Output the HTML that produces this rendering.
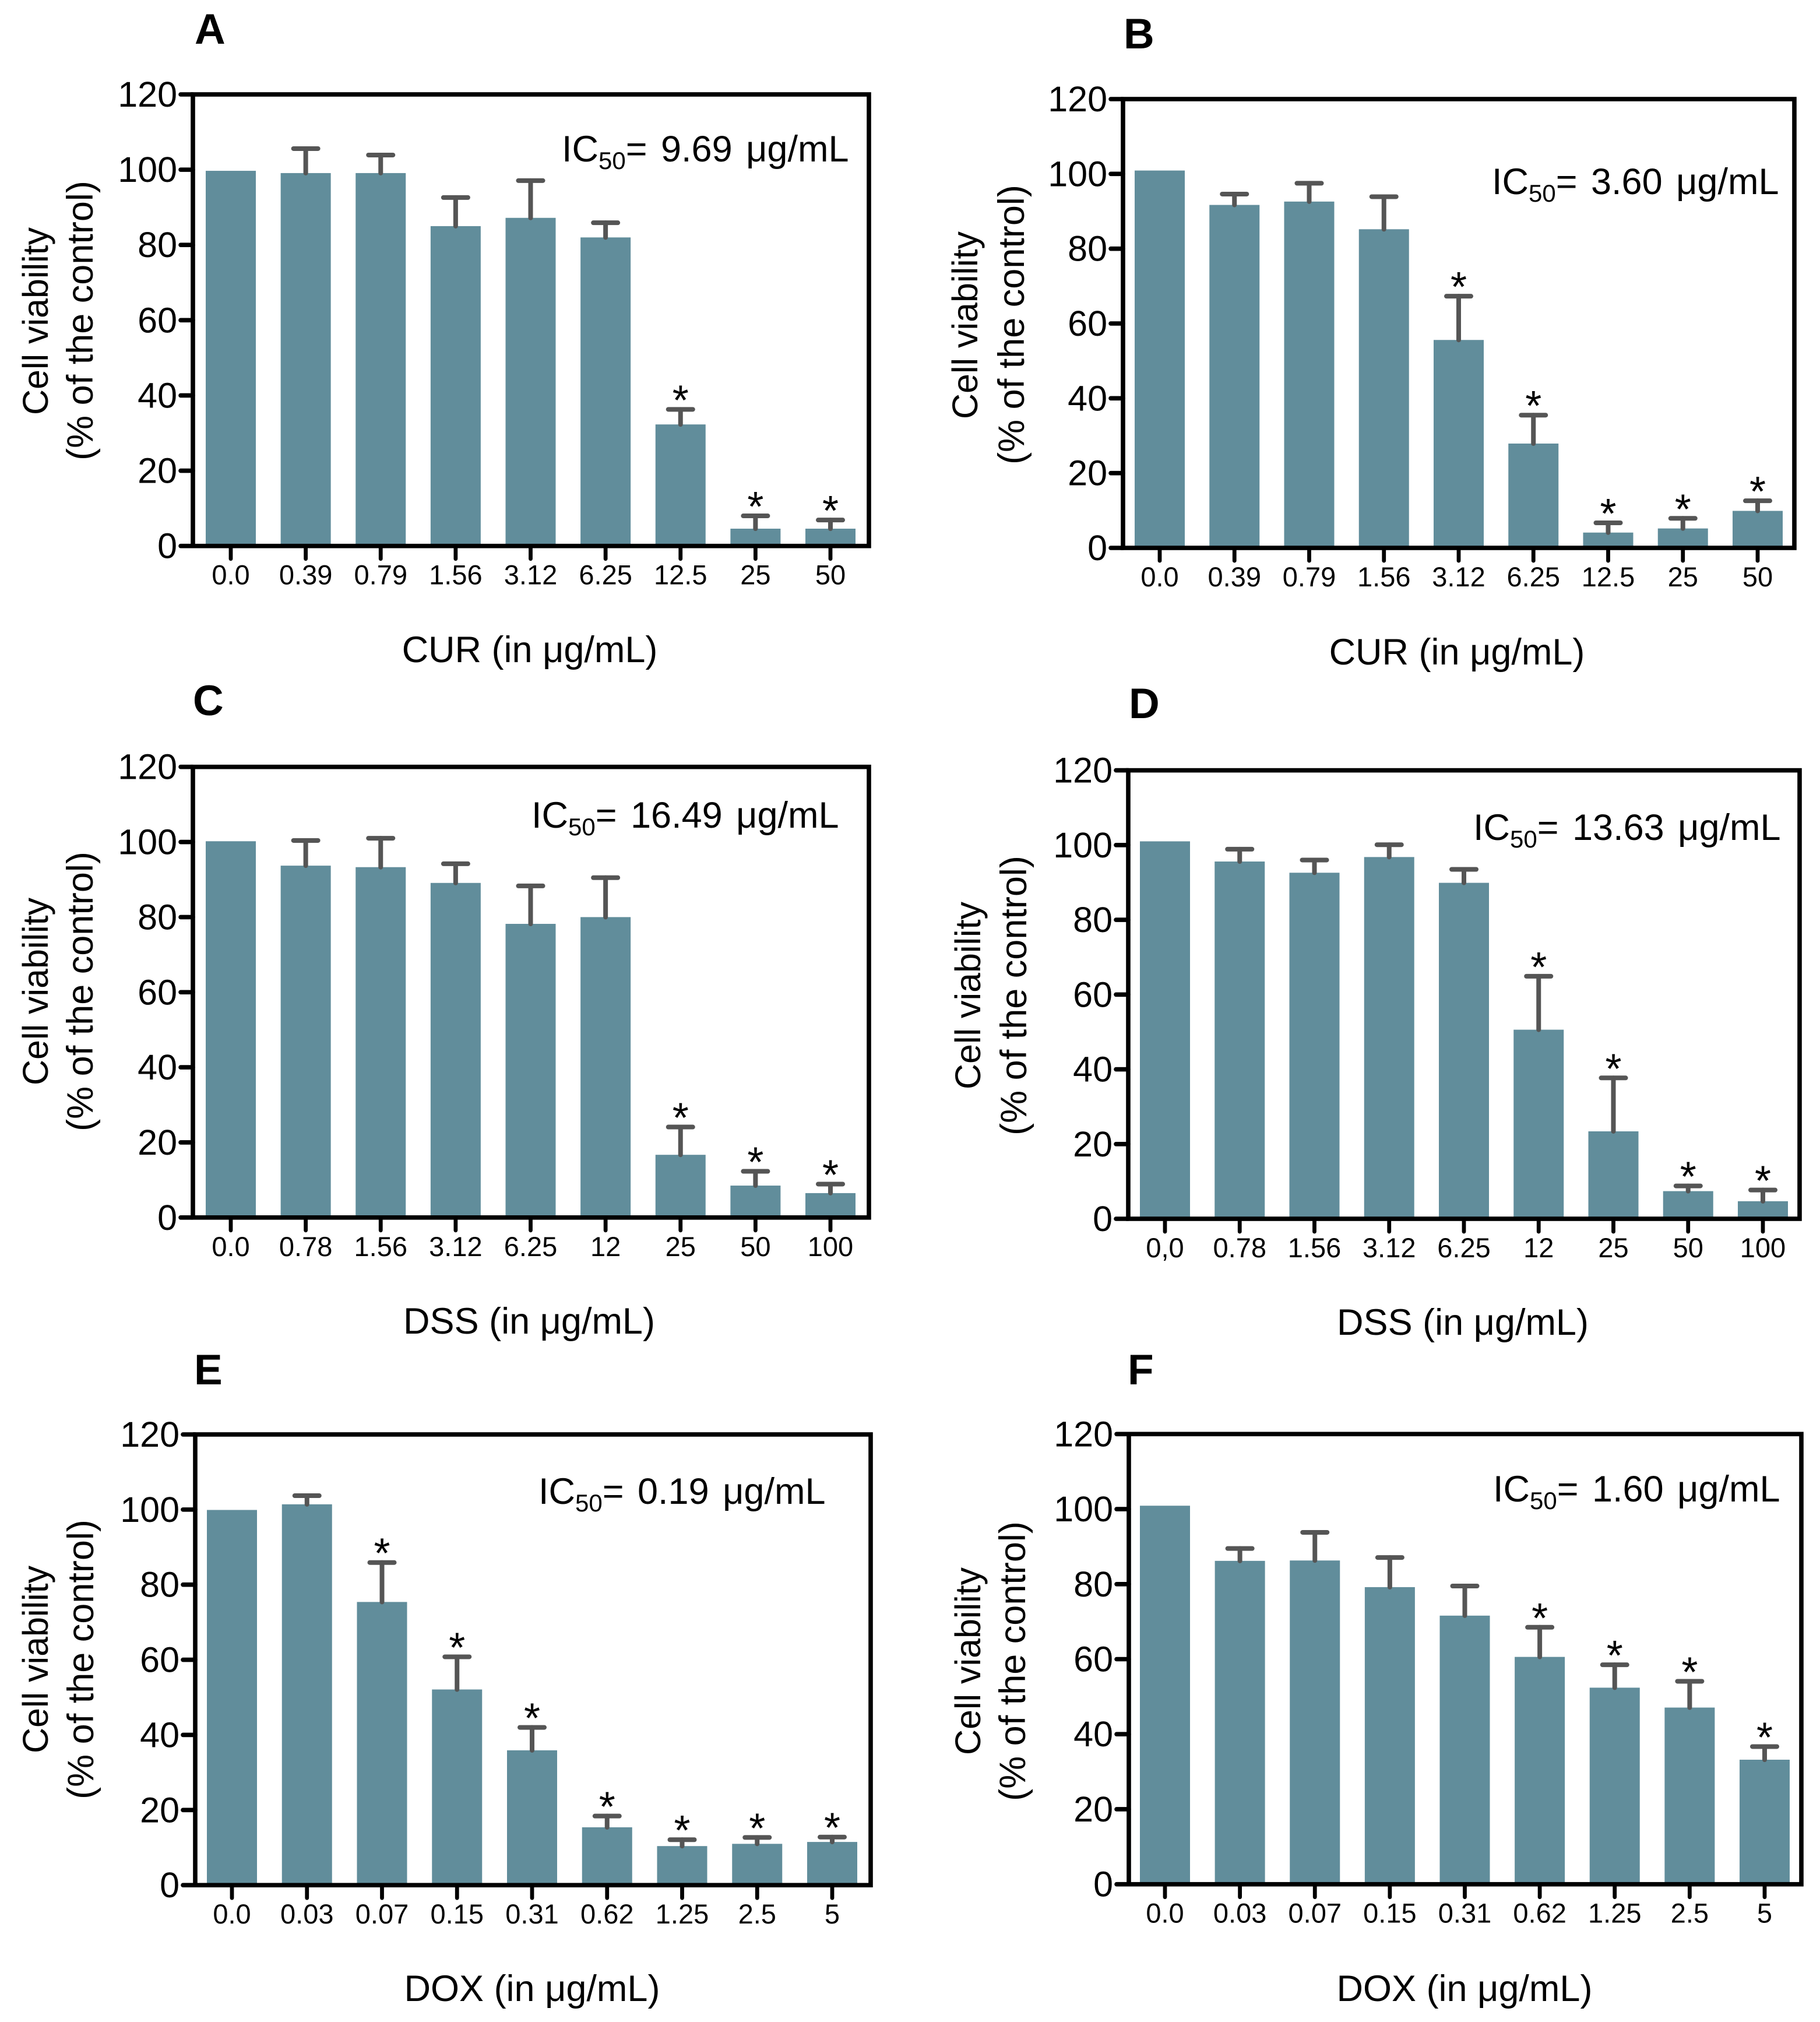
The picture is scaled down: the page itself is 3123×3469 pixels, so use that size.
<!DOCTYPE html>
<html lang="en">
<head>
<meta charset="utf-8">
<title>Cell viability by concentration</title>
<style>
html,body{margin:0;padding:0;background:#fff;}
svg{display:block;}
text{font-family:"Liberation Sans",Arial,sans-serif;fill:#000;}
.letter{font-size:73px;font-weight:bold;}
.ytitle1{font-size:61px;text-anchor:middle;}
.ytitle2{font-size:63px;text-anchor:middle;}
.xtitle{font-size:63px;text-anchor:middle;}
.ic{font-size:63px;word-spacing:6px;}
.sub{font-size:42px;}
</style>
</head>
<body>
<svg id="figure" xmlns="http://www.w3.org/2000/svg" width="3123" height="3469" viewBox="0 0 3123 3469">
<rect x="0" y="0" width="3123" height="3469" fill="#fff"/>

<g id="panel-a">
<text class="letter" x="334" y="75">A</text>
<text class="ic" x="964" y="277">IC<tspan class="sub" dy="13">50</tspan><tspan dy="-13">= 9.69 μg/mL</tspan></text>
<text class="ytitle1" transform="translate(82,551) rotate(-90)">Cell viability</text>
<text class="ytitle2" transform="translate(159,550) rotate(-90)">(% of the control)</text>
<text class="xtitle" x="909" y="1136">CUR (in μg/mL)</text>
</g>

<g id="panel-b">
<text class="letter" x="1928" y="83">B</text>
<text class="ic" x="2560" y="333">IC<tspan class="sub" dy="13">50</tspan><tspan dy="-13">= 3.60 μg/mL</tspan></text>
<text class="ytitle1" transform="translate(1677,558) rotate(-90)">Cell viability</text>
<text class="ytitle2" transform="translate(1757,557) rotate(-90)">(% of the control)</text>
<text class="xtitle" x="2500" y="1140">CUR (in μg/mL)</text>
</g>

<g id="panel-c">
<text class="letter" x="331" y="1227">C</text>
<text class="ic" x="912" y="1420">IC<tspan class="sub" dy="13">50</tspan><tspan dy="-13">= 16.49 μg/mL</tspan></text>
<text class="ytitle1" transform="translate(82,1701) rotate(-90)">Cell viability</text>
<text class="ytitle2" transform="translate(159,1701) rotate(-90)">(% of the control)</text>
<text class="xtitle" x="908" y="2288">DSS (in μg/mL)</text>
</g>

<g id="panel-d">
<text class="letter" x="1937" y="1232">D</text>
<text class="ic" x="2528" y="1441">IC<tspan class="sub" dy="13">50</tspan><tspan dy="-13">= 13.63 μg/mL</tspan></text>
<text class="ytitle1" transform="translate(1682,1708) rotate(-90)">Cell viability</text>
<text class="ytitle2" transform="translate(1761,1708) rotate(-90)">(% of the control)</text>
<text class="xtitle" x="2510" y="2290">DSS (in μg/mL)</text>
</g>

<g id="panel-e">
<text class="letter" x="333" y="2375">E</text>
<text class="ic" x="924" y="2580">IC<tspan class="sub" dy="13">50</tspan><tspan dy="-13">= 0.19 μg/mL</tspan></text>
<text class="ytitle1" transform="translate(82,2847) rotate(-90)">Cell viability</text>
<text class="ytitle2" transform="translate(160,2847) rotate(-90)">(% of the control)</text>
<text class="xtitle" x="913" y="3433">DOX (in μg/mL)</text>
</g>

<g id="panel-f">
<text class="letter" x="1935" y="2375">F</text>
<text class="ic" x="2562" y="2576">IC<tspan class="sub" dy="13">50</tspan><tspan dy="-13">= 1.60 μg/mL</tspan></text>
<text class="ytitle1" transform="translate(1682,2850) rotate(-90)">Cell viability</text>
<text class="ytitle2" transform="translate(1759,2850) rotate(-90)">(% of the control)</text>
<text class="xtitle" x="2513" y="3433">DOX (in μg/mL)</text>
</g>
</svg>

<script>
const yTicks = [0, 20, 40, 60, 80, 100, 120];

const catsA = ['0.0', '0.39', '0.79', '1.56', '3.12', '6.25', '12.5', '25', '50'];
const valsA = [99.7, 99.1, 99.1, 85, 87.2, 82, 32.3, 4.6, 4.6];
const capsA = [null, 105.6, 103.9, 92.6, 97.1, 85.9, 36.3, 8, 6.9];
const starsA = [0, 0, 0, 0, 0, 0, 1, 1, 1];

const catsB = ['0.0', '0.39', '0.79', '1.56', '3.12', '6.25', '12.5', '25', '50'];
const valsB = [100.9, 91.7, 92.6, 85.2, 55.6, 27.9, 4.1, 5.2, 9.9];
const capsB = [null, 94.6, 97.5, 93.9, 67.3, 35.5, 6.7, 7.9, 12.6];
const starsB = [0, 0, 0, 0, 1, 1, 1, 1, 1];

const catsC = ['0.0', '0.78', '1.56', '3.12', '6.25', '12', '25', '50', '100'];
const valsC = [100.2, 93.7, 93.3, 89.1, 78.2, 80, 16.7, 8.5, 6.5];
const capsC = [null, 100.4, 101, 94.2, 88.3, 90.5, 24.1, 12.3, 8.9];
const starsC = [0, 0, 0, 0, 0, 0, 1, 1, 1];

const catsD = ['0,0', '0.78', '1.56', '3.12', '6.25', '12', '25', '50', '100'];
const valsD = [101, 95.6, 92.6, 96.8, 89.9, 50.6, 23.4, 7.4, 4.7];
const capsD = [null, 98.9, 96, 100.1, 93.5, 64.9, 37.7, 8.8, 7.7];
const starsD = [0, 0, 0, 0, 0, 1, 1, 1, 1];

const catsE = ['0.0', '0.03', '0.07', '0.15', '0.31', '0.62', '1.25', '2.5', '5'];
const valsE = [99.9, 101.4, 75.4, 52.1, 35.9, 15.4, 10.4, 11, 11.5];
const capsE = [null, 103.7, 85.9, 60.8, 42, 18.4, 12.1, 12.7, 12.8];
const starsE = [0, 0, 1, 1, 1, 1, 1, 1, 1];

const catsF = ['0.0', '0.03', '0.07', '0.15', '0.31', '0.62', '1.25', '2.5', '5'];
const valsF = [100.9, 86.2, 86.3, 79.2, 71.6, 60.6, 52.4, 47.1, 33.2];
const capsF = [null, 89.5, 93.8, 87.1, 79.5, 68.5, 58.5, 54.1, 36.7];
const starsF = [0, 0, 0, 0, 0, 1, 1, 1, 1];

const yMax = 120;
const NS = 'http://www.w3.org/2000/svg';

const panels = [
  {id: 'a', cats: catsA, vals: valsA, caps: capsA, stars: starsA, left: 331, right: 1491, top: 162, bottom: 936.7, first: 396, last: 1425},
  {id: 'b', cats: catsB, vals: valsB, caps: capsB, stars: starsB, left: 1927, right: 3079, top: 170, bottom: 940, first: 1990, last: 3016},
  {id: 'c', cats: catsC, vals: valsC, caps: capsC, stars: starsC, left: 331, right: 1491, top: 1315.7, bottom: 2088.8, first: 396, last: 1425},
  {id: 'd', cats: catsD, vals: valsD, caps: capsD, stars: starsD, left: 1936, right: 3088, top: 1321.6, bottom: 2091, first: 1999, last: 3025},
  {id: 'e', cats: catsE, vals: valsE, caps: capsE, stars: starsE, left: 335, right: 1494, top: 2461, bottom: 3234.2, first: 398, last: 1428},
  {id: 'f', cats: catsF, vals: valsF, caps: capsF, stars: starsF, left: 1937, right: 3091, top: 2460.3, bottom: 3232.7, first: 1999, last: 3028}
];

function yScale(p, v) {
  return p.bottom - v * (p.bottom - p.top) / yMax;
}
function xScale(p, i) {
  return p.first + i * (p.last - p.first) / (p.cats.length - 1);
}
function shape(tag, attrs) {
  const el = document.createElementNS(NS, tag);
  for (const k in attrs) el.setAttribute(k, attrs[k]);
  return el;
}

panels.forEach(function (p) {
  const g = document.getElementById('panel-' + p.id);
  const anchor = g.firstElementChild;

  p.vals.forEach(function (v, i) {
    const cx = xScale(p, i);
    const y = yScale(p, v);
    const bar = shape('rect', {x: cx - 43, y: y, width: 86, height: p.bottom - y, fill: '#618d9b'});
    
    
    g.insertBefore(bar, anchor);
  });

  p.caps.forEach(function (c, i) {
    if (c === null) return;
    const cx = xScale(p, i);
    const cy = yScale(p, c);
    const barY = yScale(p, p.vals[i]);
    const stem = shape('line', {x1: cx, x2: cx, y1: cy, y2: barY, stroke: '#555', 'stroke-width': 8, 'stroke-linecap': 'round'});
    
    
    g.insertBefore(stem, anchor);
    const cap = shape('line', {x1: cx - 21, x2: cx + 21, y1: cy, y2: cy, stroke: '#555', 'stroke-width': 8, 'stroke-linecap': 'round'});
    
    
    g.insertBefore(cap, anchor);
    if (p.stars[i]) {
      const star = shape('text', {x: cx, y: cy + 9, 'text-anchor': 'middle', 'font-size': 72});
      star.textContent = '*';
      
      
      g.insertBefore(star, anchor);
    }
  });

  const frame = shape('rect', {x: p.left, y: p.top, width: p.right - p.left, height: p.bottom - p.top, fill: 'none', stroke: '#000', 'stroke-width': 7.6});
  
  
  g.insertBefore(frame, anchor);

  yTicks.forEach(function (t) {
    const y = yScale(p, t);
    const tick = shape('line', {x1: p.left - 21, x2: p.left, y1: y, y2: y, stroke: '#000', 'stroke-width': 7.6, 'stroke-linecap': 'round'});
    
    
    g.insertBefore(tick, anchor);
    const label = shape('text', {x: p.left - 27, y: y + 21, 'text-anchor': 'end', 'font-size': 61});
    label.textContent = t;
    
    
    g.insertBefore(label, anchor);
  });

  p.cats.forEach(function (c, i) {
    const x = xScale(p, i);
    const tick = shape('line', {x1: x, x2: x, y1: p.bottom, y2: p.bottom + 22, stroke: '#000', 'stroke-width': 6.8, 'stroke-linecap': 'round'});
    
    
    g.insertBefore(tick, anchor);
    const label = shape('text', {x: x, y: p.bottom + 66, 'text-anchor': 'middle', 'font-size': 47});
    label.textContent = c;
    
    
    g.insertBefore(label, anchor);
  });
});
</script>
</body>
</html>
